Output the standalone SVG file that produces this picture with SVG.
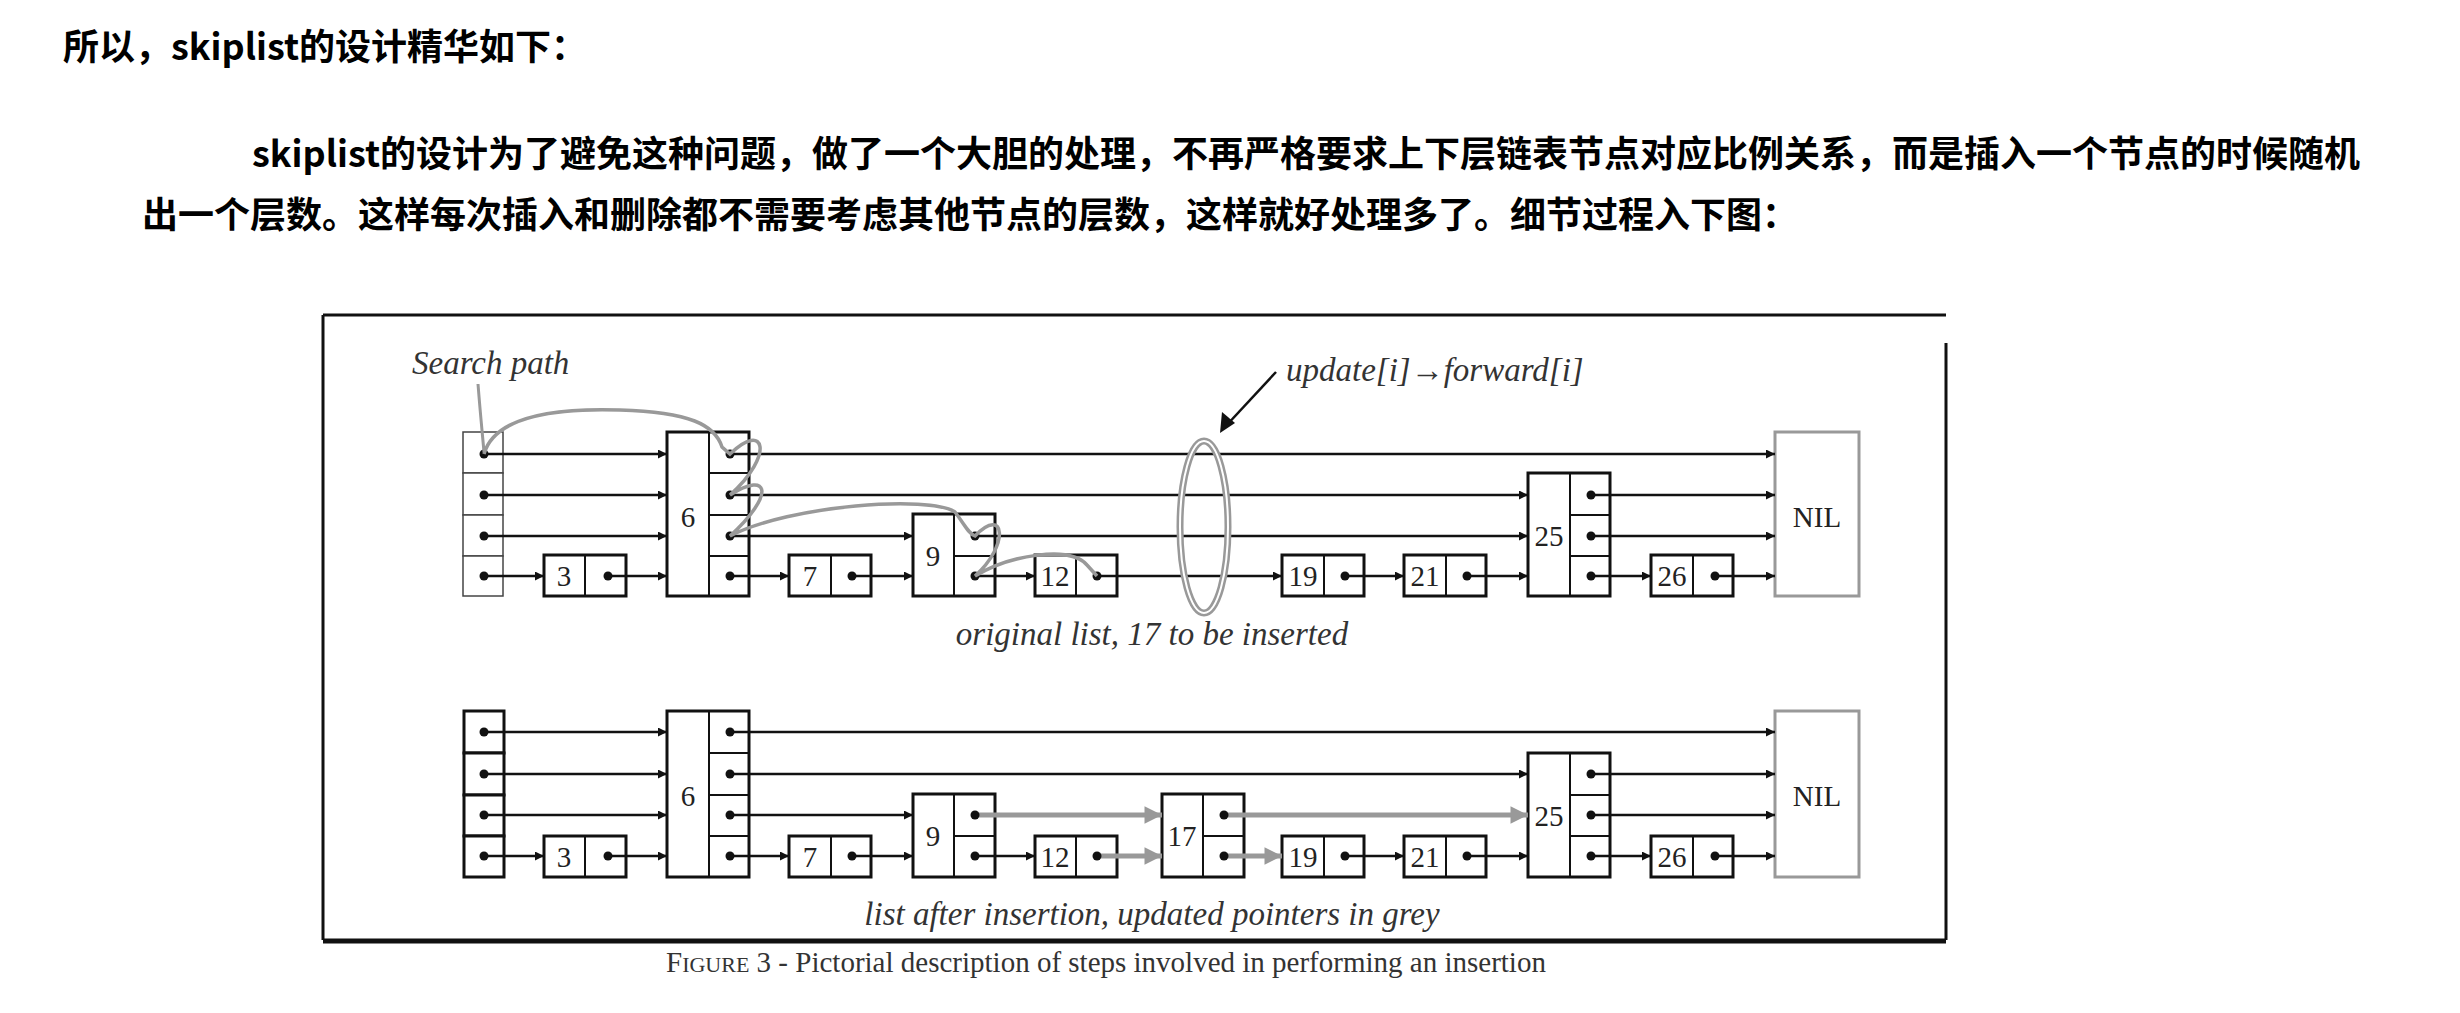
<svg xmlns="http://www.w3.org/2000/svg" width="2460" height="1013" viewBox="0 0 2460 1013">
<style>
.cjk{font-family:"Noto Sans CJK SC",sans-serif;font-weight:bold;font-size:36px;fill:#000}
.n{font-family:"Liberation Serif",serif;font-size:29px;fill:#222}
.it{font-family:"Liberation Serif",serif;font-style:italic;font-size:33px;fill:#333}
.box{fill:#fff;stroke:#111;stroke-width:3}
.gbox{fill:#fff;stroke:#999;stroke-width:3}
.hl{fill:#fff;stroke:#444;stroke-width:1.5}
.ln path{stroke:#111;stroke-width:2.5;fill:none;marker-end:url(#a)}
.gl path{stroke:#999;stroke-width:5;fill:none;marker-end:url(#g)}
.dot{fill:#111}
</style>
<defs>
<marker id="a" viewBox="0 0 10 10" refX="10" refY="5" markerWidth="6" markerHeight="3.6" markerUnits="strokeWidth" orient="auto"><path d="M0,0 L10,5 L0,10 z" fill="#111"/></marker>
<marker id="g" viewBox="0 0 10 10" refX="10" refY="5" markerWidth="4.5" markerHeight="3.5" markerUnits="strokeWidth" orient="auto"><path d="M0,0 L10,5 L0,10 z" fill="#999"/></marker>
</defs>
<rect width="2460" height="1013" fill="#fff"/>
<text class="cjk" x="63" y="60">所以，skiplist的设计精华如下：</text>
<text class="cjk" x="252" y="167">skiplist的设计为了避免这种问题，做了一个大胆的处理，不再严格要求上下层链表节点对应比例关系，而是插入一个节点的时候随机</text>
<text class="cjk" x="142" y="228">出一个层数。这样每次插入和删除都不需要考虑其他节点的层数，这样就好处理多了。细节过程入下图：</text>
<g id="frame" fill="none" stroke="#111">
<path d="M323,315 H1946" stroke-width="3"/>
<path d="M323,315 V940" stroke-width="3"/>
<path d="M1946,343 V940" stroke-width="3"/>
<path d="M323,941 H1946" stroke-width="5"/>
</g>
<text x="666" y="972" style="font-family:'Liberation Serif',serif;font-size:29px;fill:#333">F<tspan font-size="22">IGURE</tspan> 3 - Pictorial description of steps involved in performing an insertion</text>

<!-- TOP LIST -->
<g id="top-head"><rect class="hl" x="463" y="432" width="40" height="41"/><rect class="hl" x="463" y="473" width="40" height="42"/><rect class="hl" x="463" y="515" width="40" height="41"/><rect class="hl" x="463" y="556" width="40" height="40"/></g>
<g id="top-3"><rect class="box" x="544" y="555" width="82" height="41"/><line x1="585" y1="555" x2="585" y2="596" stroke="#111" stroke-width="2"/><text class="n" x="564" y="586" text-anchor="middle">3</text></g>
<g id="top-6"><rect class="box" x="667" y="432" width="82" height="164"/><path d="M709,432V596M709,473H749M709,515H749M709,556H749" stroke="#111" stroke-width="2"/><text class="n" x="688" y="527" text-anchor="middle">6</text></g>
<g id="top-7"><rect class="box" x="789" y="555" width="82" height="41"/><line x1="831" y1="555" x2="831" y2="596" stroke="#111" stroke-width="2"/><text class="n" x="810" y="586" text-anchor="middle">7</text></g>
<g id="top-9"><rect class="box" x="913" y="514" width="82" height="82"/><path d="M954,514V596M954,556H995" stroke="#111" stroke-width="2"/><text class="n" x="933" y="566" text-anchor="middle">9</text></g>
<g id="top-12"><rect class="box" x="1035" y="555" width="82" height="41"/><line x1="1076" y1="555" x2="1076" y2="596" stroke="#111" stroke-width="2"/><text class="n" x="1055" y="586" text-anchor="middle">12</text></g>
<g id="top-19"><rect class="box" x="1282" y="555" width="82" height="41"/><line x1="1324" y1="555" x2="1324" y2="596" stroke="#111" stroke-width="2"/><text class="n" x="1303" y="586" text-anchor="middle">19</text></g>
<g id="top-21"><rect class="box" x="1404" y="555" width="82" height="41"/><line x1="1446" y1="555" x2="1446" y2="596" stroke="#111" stroke-width="2"/><text class="n" x="1425" y="586" text-anchor="middle">21</text></g>
<g id="top-25"><rect class="box" x="1528" y="473" width="82" height="123"/><path d="M1570,473V596M1570,515H1610M1570,556H1610" stroke="#111" stroke-width="2"/><text class="n" x="1549" y="546" text-anchor="middle">25</text></g>
<g id="top-26"><rect class="box" x="1651" y="555" width="82" height="41"/><line x1="1693" y1="555" x2="1693" y2="596" stroke="#111" stroke-width="2"/><text class="n" x="1672" y="586" text-anchor="middle">26</text></g>
<g id="top-nil"><rect class="gbox" x="1775" y="432" width="84" height="164"/><text class="n" x="1817" y="527" text-anchor="middle">NIL</text></g>

<g id="top-connectors">
<g class="ln">
<path d="M484,454H667"/><path d="M730,454H1775"/><path d="M484,495H667"/><path d="M730,495H1528"/><path d="M1591,495H1775"/><path d="M484,536H667"/><path d="M730,536H913"/><path d="M975,536H1528"/><path d="M1591,536H1775"/>
<path d="M484,576H544"/><path d="M608,576H667"/><path d="M730,576H789"/><path d="M852,576H913"/><path d="M975,576H1035"/><path d="M1097,576H1282"/><path d="M1345,576H1404"/><path d="M1467,576H1528"/><path d="M1591,576H1651"/><path d="M1715,576H1775"/>
</g>
<g class="dot"><circle cx="484" cy="454" r="4.5"/><circle cx="484" cy="495" r="4.5"/><circle cx="484" cy="536" r="4.5"/><circle cx="484" cy="576" r="4.5"/><circle cx="608" cy="576" r="4.5"/><circle cx="730" cy="454" r="4.5"/><circle cx="730" cy="495" r="4.5"/><circle cx="730" cy="536" r="4.5"/><circle cx="730" cy="576" r="4.5"/><circle cx="852" cy="576" r="4.5"/><circle cx="975" cy="536" r="4.5"/><circle cx="975" cy="576" r="4.5"/><circle cx="1097" cy="576" r="4.5"/><circle cx="1345" cy="576" r="4.5"/><circle cx="1467" cy="576" r="4.5"/><circle cx="1591" cy="495" r="4.5"/><circle cx="1591" cy="536" r="4.5"/><circle cx="1591" cy="576" r="4.5"/><circle cx="1715" cy="576" r="4.5"/></g>
<path d="M484,454 C495,415 560,408 620,410 C690,412 715,425 722,447 L730,454 C765,420 775,455 730,495 C770,470 775,495 730,536 C790,505 930,495 955,512 C965,525 968,533 975,536 C1005,505 1010,545 975,576 C1010,555 1070,545 1087,565 L1097,576" fill="none" stroke="#999" stroke-width="3.5"/>
<path d="M478,384 C480,410 482,430 484,452" fill="none" stroke="#999" stroke-width="3"/>
<ellipse cx="1204" cy="527" rx="24" ry="86" fill="none" stroke="#999" stroke-width="7"/>
<ellipse cx="1204" cy="527" rx="24" ry="86" fill="none" stroke="#fff" stroke-width="2"/>
<path d="M1276,372 L1224,428" stroke="#111" stroke-width="2.5" fill="none"/>
<path d="M1220,433 L1222,412 L1235,423 z" fill="#111"/>
</g>
<text class="it" x="412" y="374">Search path</text>
<text class="it" x="1286" y="381">update[i]→forward[i]</text>
<text class="it" x="1152" y="645" text-anchor="middle">original list, 17 to be inserted</text>

<!-- BOTTOM LIST -->
<g id="bot-head"><rect class="box" x="464" y="711" width="40" height="42"/><rect class="box" x="464" y="753" width="40" height="42"/><rect class="box" x="464" y="795" width="40" height="41"/><rect class="box" x="464" y="836" width="40" height="41"/></g>
<g id="bot-3"><rect class="box" x="544" y="836" width="82" height="41"/><line x1="585" y1="836" x2="585" y2="877" stroke="#111" stroke-width="2"/><text class="n" x="564" y="867" text-anchor="middle">3</text></g>
<g id="bot-6"><rect class="box" x="667" y="711" width="82" height="166"/><path d="M709,711V877M709,753H749M709,795H749M709,836H749" stroke="#111" stroke-width="2"/><text class="n" x="688" y="806" text-anchor="middle">6</text></g>
<g id="bot-7"><rect class="box" x="789" y="836" width="82" height="41"/><line x1="831" y1="836" x2="831" y2="877" stroke="#111" stroke-width="2"/><text class="n" x="810" y="867" text-anchor="middle">7</text></g>
<g id="bot-9"><rect class="box" x="913" y="794" width="82" height="83"/><path d="M954,794V877M954,836H995" stroke="#111" stroke-width="2"/><text class="n" x="933" y="846" text-anchor="middle">9</text></g>
<g id="bot-12"><rect class="box" x="1035" y="836" width="82" height="41"/><line x1="1076" y1="836" x2="1076" y2="877" stroke="#111" stroke-width="2"/><text class="n" x="1055" y="867" text-anchor="middle">12</text></g>
<g id="bot-17"><rect class="box" x="1162" y="794" width="82" height="83"/><path d="M1203,794V877M1203,836H1244" stroke="#111" stroke-width="2"/><text class="n" x="1182" y="846" text-anchor="middle">17</text></g>
<g id="bot-19"><rect class="box" x="1282" y="836" width="82" height="41"/><line x1="1324" y1="836" x2="1324" y2="877" stroke="#111" stroke-width="2"/><text class="n" x="1303" y="867" text-anchor="middle">19</text></g>
<g id="bot-21"><rect class="box" x="1404" y="836" width="82" height="41"/><line x1="1446" y1="836" x2="1446" y2="877" stroke="#111" stroke-width="2"/><text class="n" x="1425" y="867" text-anchor="middle">21</text></g>
<g id="bot-25"><rect class="box" x="1528" y="753" width="82" height="124"/><path d="M1570,753V877M1570,795H1610M1570,836H1610" stroke="#111" stroke-width="2"/><text class="n" x="1549" y="826" text-anchor="middle">25</text></g>
<g id="bot-26"><rect class="box" x="1651" y="836" width="82" height="41"/><line x1="1693" y1="836" x2="1693" y2="877" stroke="#111" stroke-width="2"/><text class="n" x="1672" y="867" text-anchor="middle">26</text></g>
<g id="bot-nil"><rect class="gbox" x="1775" y="711" width="84" height="166"/><text class="n" x="1817" y="806" text-anchor="middle">NIL</text></g>

<g id="bot-connectors">
<g class="ln">
<path d="M484,732H667"/><path d="M730,732H1775"/><path d="M484,774H667"/><path d="M730,774H1528"/><path d="M1591,774H1775"/><path d="M484,815H667"/><path d="M730,815H913"/><path d="M1591,815H1775"/>
<path d="M484,856H544"/><path d="M608,856H667"/><path d="M730,856H789"/><path d="M852,856H913"/><path d="M975,856H1035"/><path d="M1345,856H1404"/><path d="M1467,856H1528"/><path d="M1591,856H1651"/><path d="M1715,856H1775"/>
</g>
<g class="gl"><path d="M975,815H1162"/><path d="M1224,815H1528"/><path d="M1097,856H1162"/><path d="M1224,856H1282"/></g>
<g class="dot"><circle cx="484" cy="732" r="4.5"/><circle cx="484" cy="774" r="4.5"/><circle cx="484" cy="815" r="4.5"/><circle cx="484" cy="856" r="4.5"/><circle cx="608" cy="856" r="4.5"/><circle cx="730" cy="732" r="4.5"/><circle cx="730" cy="774" r="4.5"/><circle cx="730" cy="815" r="4.5"/><circle cx="730" cy="856" r="4.5"/><circle cx="852" cy="856" r="4.5"/><circle cx="975" cy="815" r="4.5"/><circle cx="975" cy="856" r="4.5"/><circle cx="1097" cy="856" r="4.5"/><circle cx="1224" cy="815" r="4.5"/><circle cx="1224" cy="856" r="4.5"/><circle cx="1345" cy="856" r="4.5"/><circle cx="1467" cy="856" r="4.5"/><circle cx="1591" cy="774" r="4.5"/><circle cx="1591" cy="815" r="4.5"/><circle cx="1591" cy="856" r="4.5"/><circle cx="1715" cy="856" r="4.5"/></g>
</g>
<text class="it" x="1152" y="925" text-anchor="middle">list after insertion, updated pointers in grey</text>
</svg>
